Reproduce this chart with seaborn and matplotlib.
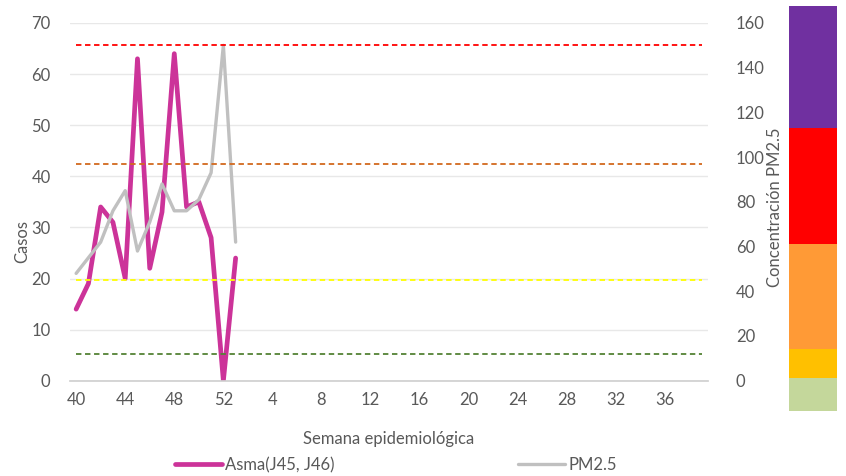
import numpy as np
import pandas as pd
import matplotlib.pyplot as plt
import matplotlib.patheffects as pe
import seaborn as sns

# Datos
semanas = [str(s) for s in list(range(40, 53)) + list(range(1, 40))]
asma = [14, 19, 34, 31, 20, 63, 22, 33, 64, 34, 35, 28, 0, 24]
pm25 = [48, 55, 62, 76, 85, 58, 71, 88, 76, 76, 81, 93, 150, 62]

umbrales = [12, 45, 97, 150]
colores_umbral = ['#548235', '#FFFF00', '#D2691E', '#FF0000']

# bandas de la barra de colores (escala de concentración)
bandas = [-14, 1, 14, 61, 113, 168]
colores_banda = ['#C4D79B', '#FFC000', '#FF9A36', '#FF0000', '#7030A0']

GRIS_TXT = '#595959'

sns.set_theme(style="white")
plt.rcParams['font.family'] = ['Lato', 'DejaVu Sans']

df = pd.DataFrame({'pos': range(len(asma)), 'asma': asma, 'pm25': pm25})

fig = plt.figure(figsize=(8.46, 4.76), dpi=100)
W, H = 846, 476
ax = fig.add_axes([70 / W, 1 - 380.7 / H, 638 / W, 357.7 / H])
ax2 = ax.twinx()

sombra = [pe.SimpleLineShadow(offset=(1, -1.5), shadow_color='#888888', alpha=0.35),
          pe.Normal()]

sns.lineplot(data=df, x='pos', y='asma', ax=ax, color='#CC3399', lw=3.4,
             label='Asma(J45, J46)', legend=False, path_effects=sombra)
sns.lineplot(data=df, x='pos', y='pm25', ax=ax2, color='#C0C0C0', lw=2.4,
             label='PM2.5', legend=False, path_effects=sombra)

for val, col in zip(umbrales, colores_umbral):
    ax2.hlines(val, 0, len(semanas) - 1, colors=col, lw=1.3, linestyles=(0, (3, 2)))

# ejes
ax.set_xlim(-0.5, len(semanas) - 0.5)
ax.set_ylim(0, 70)
ax2.set_ylim(0, 160)
ax.set_yticks(range(0, 71, 10))
ax2.set_yticks(range(0, 161, 20))
ax.set_xticks(range(0, len(semanas), 4))
ax.set_xticklabels(semanas[::4])

ax.grid(axis='y', color='#E8E8E8', lw=1)
ax.set_axisbelow(True)
for a in (ax, ax2):
    for s in a.spines.values():
        s.set_visible(False)
ax.spines['bottom'].set_visible(True)
ax.spines['bottom'].set_color('#D0D0D0')
ax.tick_params(axis='both', length=0, labelsize=12, colors=GRIS_TXT, pad=8)
ax.tick_params(axis='y', pad=14)
ax2.tick_params(axis='y', length=0, labelsize=12, colors=GRIS_TXT, pad=20)

ax.set_xlabel('Semana epidemiológica', fontsize=12, color=GRIS_TXT)
ax.xaxis.label.set_va('center')
ax.xaxis.set_label_coords(0.499, -0.163)
ax.set_ylabel('Casos', fontsize=12, color=GRIS_TXT)
ax.yaxis.label.set_va('center')
ax.yaxis.set_label_coords(-0.075, 0.39)
ax2.set_ylabel('Concentración PM2.5', fontsize=12, color=GRIS_TXT)
ax2.yaxis.label.set_va('center')
ax2.yaxis.set_label_coords(1.105, 0.486)

# barra de colores a la derecha
axb = fig.add_axes([789 / W, 1 - 411 / H, 48 / W, 405 / H])
axb.bar([0] * len(colores_banda), np.diff(bandas), bottom=bandas[:-1],
        color=colores_banda, width=1, edgecolor='none')
axb.set_xlim(-0.5, 0.5)
axb.set_ylim(bandas[0], bandas[-1])
axb.axis('off')

# leyenda
h1, l1 = ax.get_legend_handles_labels()
h2, l2 = ax2.get_legend_handles_labels()
for h in h1 + h2:
    h.set_path_effects([])
fig.legend(h1 + h2, l1 + l2, loc='center', bbox_to_anchor=(396 / W, 1 - 465 / H),
           ncol=2, frameon=False, fontsize=12, handlelength=2.8, handletextpad=0.2,
           columnspacing=11, labelcolor=GRIS_TXT)

fig.savefig('out.png', dpi=100)
